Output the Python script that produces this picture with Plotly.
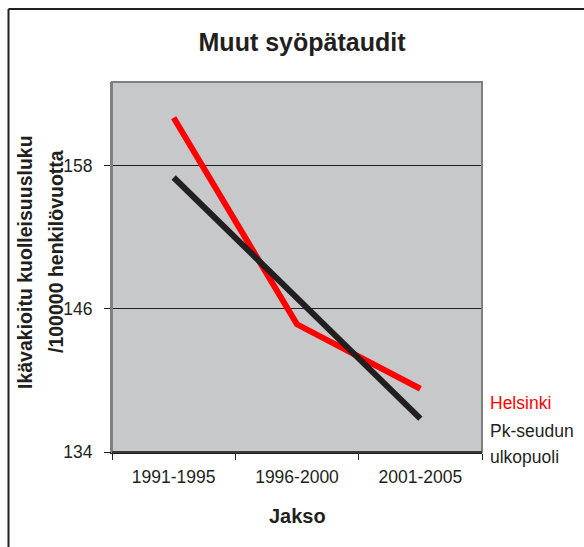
import plotly.graph_objects as go

# Data
periods = ["1991-1995", "1996-2000", "2001-2005"]
helsinki = [162.0, 144.7, 139.3]
pk_seudun_ulkopuoli = [157.0, 146.9, 136.8]
y_ticks = [134, 146, 158]

W, H = 584, 547
L, R, T, B = 112, 102, 82, 95
PW, PH = W - L - R, H - T - B

def px(x):
    return (x - L) / PW

def py(y):
    return (H - B - y) / PH

FONT = "Liberation Sans, Arial, sans-serif"
INK = "#231F20"

fig = go.Figure()
fig.add_trace(go.Scatter(x=periods, y=helsinki, mode="lines", name="Helsinki",
                         line=dict(color="#FF0000", width=6), showlegend=False))
fig.add_trace(go.Scatter(x=periods, y=pk_seudun_ulkopuoli, mode="lines",
                         name="Pk-seudun ulkopuoli",
                         line=dict(color=INK, width=6), showlegend=False))

fig.update_layout(
    width=W, height=H,
    margin=dict(l=L, r=R, t=T, b=B),
    paper_bgcolor="white",
    plot_bgcolor="#C7C8CA",
    font=dict(family=FONT, color=INK, size=17),
    title=dict(text="<b>Muut syöpätaudit</b>", x=302 / W, xanchor="center",
               y=1 - 42 / H, yanchor="middle", yref="container",
               font=dict(size=25, color=INK)),
)

fig.update_xaxes(type="category", range=[-0.5, 2.5], showgrid=False,
                 showline=True, linecolor=INK, linewidth=1.5,
                 ticks="outside", tickson="boundaries", ticklen=6,
                 tickcolor=INK, tickwidth=1, ticklabelstandoff=8,
                 tickfont=dict(size=17.5))
fig.update_yaxes(range=[134, 165], tickvals=y_ticks,
                 showgrid=True, gridcolor=INK, gridwidth=1,
                 showline=True, linecolor="#808080", linewidth=2,
                 ticks="outside", ticklen=6, tickcolor=INK, tickwidth=1,
                 ticklabelstandoff=8, tickfont=dict(size=17.5), zeroline=False)

shapes = [
    # plot area frame
    dict(type="rect", xref="paper", yref="paper", x0=0, y0=0, x1=1, y1=1,
         line=dict(color="#808080", width=2), layer="above"),
    dict(type="line", xref="paper", yref="paper", x0=0, y0=0, x1=1, y1=0,
         line=dict(color=INK, width=1.5), layer="above"),
    # outer chart border (top and left)
    dict(type="line", xref="paper", yref="paper", x0=px(8.5), y0=py(9),
         x1=px(W + 2), y1=py(9), line=dict(color=INK, width=2)),
    dict(type="line", xref="paper", yref="paper", x0=px(8.5), y0=py(9),
         x1=px(8.5), y1=py(H + 2), line=dict(color=INK, width=2)),
]
fig.update_layout(shapes=shapes)

annotations = [
    dict(text="<b>Ikävakioitu kuolleisuusluku</b>", x=px(25), y=py(262),
         textangle=-90, font=dict(size=19.5)),
    dict(text="<b>/100000 henkilövuotta</b>", x=px(56), y=py(252),
         textangle=-90, font=dict(size=19.5)),
    dict(text="<b>Jakso</b>", x=px(297), y=py(516), font=dict(size=20)),
    dict(text="Helsinki", x=px(488), y=py(403), xanchor="left",
         font=dict(size=17.5, color="#FF0000")),
    dict(text="Pk-seudun", x=px(488), y=py(431), xanchor="left",
         font=dict(size=17.5)),
    dict(text="ulkopuoli", x=px(488), y=py(457), xanchor="left",
         font=dict(size=17.5)),
]
for a in annotations:
    a.update(xref="paper", yref="paper", showarrow=False)
    a.setdefault("xanchor", "center")
    a.setdefault("yanchor", "middle")
fig.update_layout(annotations=annotations)

fig.write_html("out.html")
